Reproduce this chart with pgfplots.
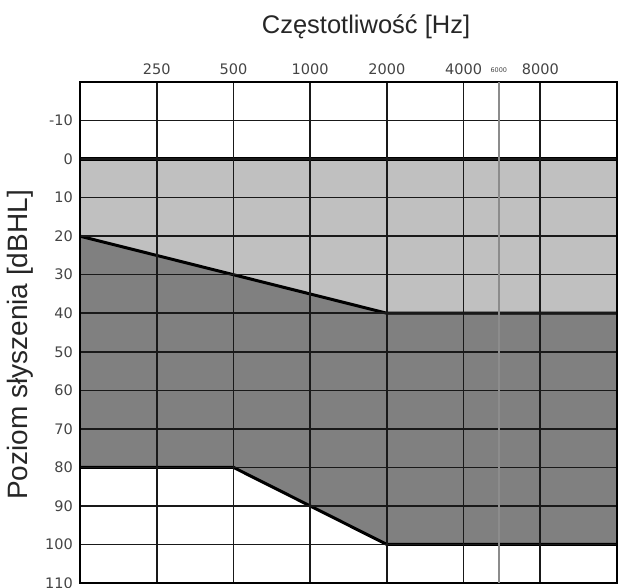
\documentclass[border=0pt]{standalone}
\usepackage{pgfplots}
\pgfplotsset{compat=1.18}
\usepackage{fontspec}
\setmainfont{Liberation Sans}
\newfontfamily\tickfont{DejaVu Sans}
\definecolor{lightfill}{HTML}{C0C0C0}
\definecolor{darkfill}{HTML}{808080}
\definecolor{ticktext}{HTML}{444444}
\begin{document}
\begin{tikzpicture}
\begin{axis}[
  at={(0pt,0pt)}, anchor=south west,
  scale only axis, width=537pt, height=501pt,
  xmin=0, xmax=7, ymin=-20, ymax=110, y dir=reverse,
  xtick={1,2,3,4,5,6},
  xticklabels={250,500,1000,2000,4000,8000},
  extra x ticks={5.46},
  extra x tick labels={{\fontsize{6.5}{6.5}\selectfont 6000}},
  extra x tick style={grid style={black!45, line width=1.4pt},
    xticklabel style={yshift=2pt}},
  ytick={-10,0,10,20,30,40,50,60,70,80,90,100,110},
  xticklabel pos=upper,
  major tick length=0pt,
  grid=major,
  grid style={black!90, line width=1.6pt},
  axis line style={black, line width=2.8pt},
  axis on top,
  /pgf/number format/assume math mode=true,
  xticklabel style={font=\tickfont\fontsize{14.5}{14.5}\selectfont, text=ticktext, inner sep=0pt, anchor=base, yshift=7pt},
  yticklabel style={font=\tickfont\fontsize{14.5}{14.5}\selectfont, text=ticktext, inner sep=0pt, anchor=east, xshift=-7pt},
  clip=false,
]
\addplot[fill=lightfill, draw=none] coordinates {(0,0) (7,0) (7,40) (4,40) (2,30) (0,20)} -- cycle;
\addplot[fill=darkfill, draw=none] coordinates {(0,20) (2,30) (4,40) (7,40) (7,100) (4,100) (2,80) (0,80)} -- cycle;
\addplot[black, line width=3pt] coordinates {(0,20) (2,30) (4,40) (7,40)};
\addplot[black, line width=3pt] coordinates {(0,80) (2,80) (4,100) (7,100)};
\addplot[black, line width=3.5pt] coordinates {(0,0) (7,0)};
\end{axis}
\node[anchor=base, font=\fontsize{25.5}{25.5}\selectfont, text=black!85] at (286pt,549pt) {Częstotliwość [Hz]};
\node[rotate=90, font=\fontsize{28}{28}\selectfont, text=black!85] at (-60pt,238pt) {Poziom słyszenia [dBHL]};
\pgfresetboundingbox
\path[use as bounding box] (-80pt,-5pt) rectangle (539pt,583pt);
\end{tikzpicture}
\end{document}
